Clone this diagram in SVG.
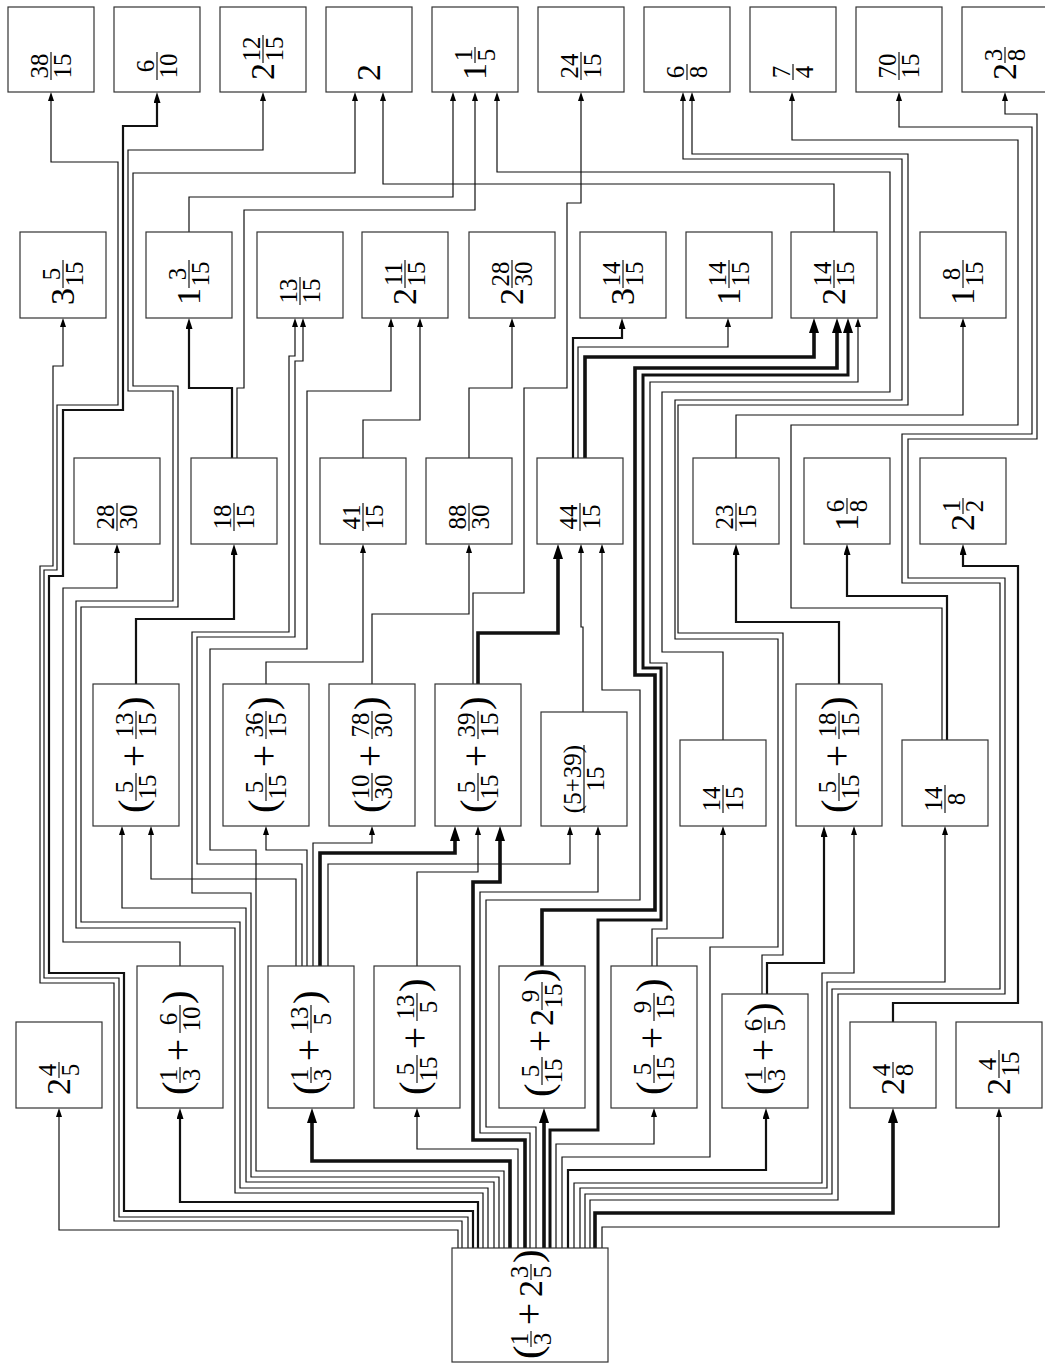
<svg xmlns="http://www.w3.org/2000/svg" width="1045" height="1367" viewBox="0 0 1045 1367" font-family="'Liberation Serif', serif">
<style>
.b{fill:#fff;stroke:#333;stroke-width:1.2}
.e{fill:none;stroke:#111;stroke-width:1.2;marker-end:url(#a)}
.m{stroke-width:2.2;marker-end:url(#am)}
.t{stroke-width:3.6;marker-end:url(#at)}
.t2{stroke-width:3;marker-end:url(#at)}
text{font-family:'Liberation Serif',serif;fill:#000}
.f{font-size:25px;text-anchor:middle}
.F{font-size:34px}
.P{font-size:41px}
.p{font-size:40px;text-anchor:middle}
.r{stroke:#000;stroke-width:1.1;fill:none}
</style>
<defs>
<marker id="a" markerUnits="userSpaceOnUse" viewBox="0 0 9 6" refX="0" refY="3" markerWidth="9" markerHeight="6" orient="auto"><path d="M0,0L9,3L0,6z" fill="#000"/></marker>
<marker id="am" markerUnits="userSpaceOnUse" viewBox="0 0 11 7" refX="0" refY="3.5" markerWidth="11" markerHeight="7" orient="auto"><path d="M0,0L11,3.5L0,7z" fill="#000"/></marker>
<marker id="at" markerUnits="userSpaceOnUse" viewBox="0 0 15 10" refX="0" refY="5" markerWidth="15" markerHeight="10" orient="auto"><path d="M0,0L15,5L0,10z" fill="#000"/></marker>
</defs>
<rect width="1045" height="1367" fill="#fff"/>
<g id="connectors">
<path class="e" d="M458 1248V1230H59V1117"/>
<path class="e" d="M462 1248V1221H114V983H40V566H53V366H63V327"/>
<path class="e" d="M468 1248V1217H119V978H44V570H57V405H118V162H51V101"/>
<path class="e m" d="M473 1248V1211H124V973H49V576H63V410H123V126H157V103"/>
<path class="e m" d="M478 1248V1202H180V1119"/>
<path class="e" d="M483 1248V1193H235V928H76V601H173V391H128V150H263V101"/>
<path class="e" d="M488 1248V1188H240V922H81V607H178V386H133V173H355V101"/>
<path class="e" d="M494 1248V1182H246V908H122V835"/>
<path class="e" d="M499 1248V1177H251V893H192V632H289V356H295V327"/>
<path class="e" d="M504 1248V1171H256V850H210V649H307V391H391V327"/>
<path class="e t" d="M510 1248V1161H312V1123"/>
<path class="e" d="M518 1248V1149H417V1117"/>
<path class="e t" d="M525 1248V1140H473V882H500V841"/>
<path class="e" d="M530 1248V1133H480V892H598V835"/>
<path class="e" d="M536 1248V1127H486V900H640V690H602V553"/>
<path class="e t" d="M544 1248V1123"/>
<path class="e t2" d="M550 1248V1130H598V920H661V668H643V375H848V333"/>
<path class="e" d="M556 1248V1144H654V1117"/>
<path class="e" d="M562 1248V1157H710V947H778V639H675V400H902V159H683V101"/>
<path class="e m" d="M568 1248V1170H766V1119"/>
<path class="e" d="M574 1248V1183H822V973H854V835"/>
<path class="e" d="M580 1248V1188H827V982H945V835"/>
<path class="e" d="M585 1248V1194H832V989H1000V583H902V434H1032V127H899V101"/>
<path class="e" d="M590 1248V1200H838V994H1005V578H908V439H1037V114H1005V101"/>
<path class="e t" d="M595 1248V1213H893V1123"/>
<path class="e" d="M602 1248V1227H999V1117"/>
<path class="e" d="M180 966V942H63V588H117V553"/>
<path class="e" d="M296 966V879H151V835"/>
<path class="e" d="M302 966V864H197V637H295V361H303V327"/>
<path class="e" d="M307 966V850H266V835"/>
<path class="e" d="M313 966V843H372V835"/>
<path class="e t" d="M320 966V853H455V841"/>
<path class="e" d="M328 966V864H570V835"/>
<path class="e m" d="M136 684V619H234V555"/>
<path class="e" d="M266 684V662H363V553"/>
<path class="e" d="M372 684V614H469V553"/>
<path class="e t" d="M478 684V633H558V559"/>
<path class="e" d="M473 684V593H524V388H567V203H581V101"/>
<path class="e" d="M583 712V627H581V553"/>
<path class="e" d="M417 966V872H478V835"/>
<path class="e t" d="M542 966V910H655V675H635V368H837V333"/>
<path class="e" d="M657 966V938H723V835"/>
<path class="e" d="M652 966V929H667V663H650V382H858V327"/>
<path class="e" d="M723 740V652H662V392H890V172H497V101"/>
<path class="e" d="M762 994V955H783V633H678V405H908V154H692V101"/>
<path class="e m" d="M767 994V963H824V837"/>
<path class="e m" d="M839 684V622H736V555"/>
<path class="e" d="M736 458V415H963V327"/>
<path class="e m" d="M947 740V596H847V555"/>
<path class="e" d="M942 740V608H791V425H1018V140H792V101"/>
<path class="e m" d="M893 1022V1003H1018V566H963V555"/>
<path class="e m" d="M573 458V338H622V329"/>
<path class="e" d="M578 458V347H728V327"/>
<path class="e t" d="M585 458V357H814V333"/>
<path class="e" d="M363 458V420H420V327"/>
<path class="e" d="M469 458V388H512V327"/>
<path class="e m" d="M232 458V388H189V329"/>
<path class="e" d="M237 458V388H244V210H475V101"/>
<path class="e" d="M189 232V197H453V101"/>
<path class="e" d="M834 232V184H383V101"/>
</g>

<g id="n38_15"><rect class="b" x="8" y="7" width="86" height="85"/><g transform="translate(51,80) rotate(-90)"><text class="f" x="14" y="-3.5">38</text><text class="f" x="14" y="20.4">15</text><path class="r" d="M0 0h28"/></g></g>
<g id="n6_10"><rect class="b" x="114" y="7" width="86" height="85"/><g transform="translate(157,80) rotate(-90)"><text class="f" x="14" y="-3.5">6</text><text class="f" x="14" y="20.4">10</text><path class="r" d="M0 0h28"/></g></g>
<g id="n2_12_15"><rect class="b" x="220" y="7" width="86" height="85"/><g transform="translate(263,80) rotate(-90)"><text class="F" x="0" y="11">2</text><text class="f" x="31" y="-3.5">12</text><text class="f" x="31" y="20.4">15</text><path class="r" d="M17 0h28"/></g></g>
<g id="n2"><rect class="b" x="326" y="7" width="86" height="85"/><g transform="translate(369,81) rotate(-90)"><text class="F" x="0" y="11">2</text></g></g>
<g id="n1_1_5"><rect class="b" x="432" y="7" width="86" height="85"/><g transform="translate(475,80) rotate(-90)"><text class="F" x="0" y="11">1</text><text class="f" x="25" y="-3.5">1</text><text class="f" x="25" y="20.4">5</text><path class="r" d="M17 0h16"/></g></g>
<g id="n24_15"><rect class="b" x="538" y="7" width="86" height="85"/><g transform="translate(581,80) rotate(-90)"><text class="f" x="14" y="-3.5">24</text><text class="f" x="14" y="20.4">15</text><path class="r" d="M0 0h28"/></g></g>
<g id="n6_8"><rect class="b" x="644" y="7" width="86" height="85"/><g transform="translate(687,80) rotate(-90)"><text class="f" x="8" y="-3.5">6</text><text class="f" x="8" y="20.4">8</text><path class="r" d="M0 0h16"/></g></g>
<g id="n7_4"><rect class="b" x="750" y="7" width="86" height="85"/><g transform="translate(793,80) rotate(-90)"><text class="f" x="8" y="-3.5">7</text><text class="f" x="8" y="20.4">4</text><path class="r" d="M0 0h16"/></g></g>
<g id="n70_15"><rect class="b" x="856" y="7" width="86" height="85"/><g transform="translate(899,80) rotate(-90)"><text class="f" x="14" y="-3.5">70</text><text class="f" x="14" y="20.4">15</text><path class="r" d="M0 0h28"/></g></g>
<g id="n2_3_8"><rect class="b" x="962" y="7" width="86" height="85"/><g transform="translate(1005,80) rotate(-90)"><text class="F" x="0" y="11">2</text><text class="f" x="25" y="-3.5">3</text><text class="f" x="25" y="20.4">8</text><path class="r" d="M17 0h16"/></g></g>

<g id="n3_5_15"><rect class="b" x="20" y="232" width="86" height="86"/><g transform="translate(63,305) rotate(-90)"><text class="F" x="0" y="11">3</text><text class="f" x="31" y="-3.5">5</text><text class="f" x="31" y="20.4">15</text><path class="r" d="M17 0h28"/></g></g>
<g id="n1_3_15"><rect class="b" x="146" y="232" width="86" height="86"/><g transform="translate(189,305) rotate(-90)"><text class="F" x="0" y="11">1</text><text class="f" x="31" y="-3.5">3</text><text class="f" x="31" y="20.4">15</text><path class="r" d="M17 0h28"/></g></g>
<g id="n13_15"><rect class="b" x="257" y="232" width="86" height="86"/><g transform="translate(300,305) rotate(-90)"><text class="f" x="14" y="-3.5">13</text><text class="f" x="14" y="20.4">15</text><path class="r" d="M0 0h28"/></g></g>
<g id="n2_11_15"><rect class="b" x="362" y="232" width="86" height="86"/><g transform="translate(405,305) rotate(-90)"><text class="F" x="0" y="11">2</text><text class="f" x="31" y="-3.5">11</text><text class="f" x="31" y="20.4">15</text><path class="r" d="M17 0h28"/></g></g>
<g id="n2_28_30"><rect class="b" x="469" y="232" width="86" height="86"/><g transform="translate(512,305) rotate(-90)"><text class="F" x="0" y="11">2</text><text class="f" x="31" y="-3.5">28</text><text class="f" x="31" y="20.4">30</text><path class="r" d="M17 0h28"/></g></g>
<g id="n3_14_15"><rect class="b" x="580" y="232" width="86" height="86"/><g transform="translate(623,305) rotate(-90)"><text class="F" x="0" y="11">3</text><text class="f" x="31" y="-3.5">14</text><text class="f" x="31" y="20.4">15</text><path class="r" d="M17 0h28"/></g></g>
<g id="n1_14_15"><rect class="b" x="686" y="232" width="86" height="86"/><g transform="translate(729,305) rotate(-90)"><text class="F" x="0" y="11">1</text><text class="f" x="31" y="-3.5">14</text><text class="f" x="31" y="20.4">15</text><path class="r" d="M17 0h28"/></g></g>
<g id="n2_14_15"><rect class="b" x="791" y="232" width="86" height="86"/><g transform="translate(834,305) rotate(-90)"><text class="F" x="0" y="11">2</text><text class="f" x="31" y="-3.5">14</text><text class="f" x="31" y="20.4">15</text><path class="r" d="M17 0h28"/></g></g>
<g id="n1_8_15"><rect class="b" x="920" y="232" width="86" height="86"/><g transform="translate(963,305) rotate(-90)"><text class="F" x="0" y="11">1</text><text class="f" x="31" y="-3.5">8</text><text class="f" x="31" y="20.4">15</text><path class="r" d="M17 0h28"/></g></g>

<g id="n28_30"><rect class="b" x="74" y="458" width="86" height="86"/><g transform="translate(117,531) rotate(-90)"><text class="f" x="14" y="-3.5">28</text><text class="f" x="14" y="20.4">30</text><path class="r" d="M0 0h28"/></g></g>
<g id="n18_15"><rect class="b" x="191" y="458" width="86" height="86"/><g transform="translate(234,531) rotate(-90)"><text class="f" x="14" y="-3.5">18</text><text class="f" x="14" y="20.4">15</text><path class="r" d="M0 0h28"/></g></g>
<g id="n41_15"><rect class="b" x="320" y="458" width="86" height="86"/><g transform="translate(363,531) rotate(-90)"><text class="f" x="14" y="-3.5">41</text><text class="f" x="14" y="20.4">15</text><path class="r" d="M0 0h28"/></g></g>
<g id="n88_30"><rect class="b" x="426" y="458" width="86" height="86"/><g transform="translate(469,531) rotate(-90)"><text class="f" x="14" y="-3.5">88</text><text class="f" x="14" y="20.4">30</text><path class="r" d="M0 0h28"/></g></g>
<g id="n44_15"><rect class="b" x="537" y="458" width="86" height="86"/><g transform="translate(580,531) rotate(-90)"><text class="f" x="14" y="-3.5">44</text><text class="f" x="14" y="20.4">15</text><path class="r" d="M0 0h28"/></g></g>
<g id="n23_15"><rect class="b" x="693" y="458" width="86" height="86"/><g transform="translate(736,531) rotate(-90)"><text class="f" x="14" y="-3.5">23</text><text class="f" x="14" y="20.4">15</text><path class="r" d="M0 0h28"/></g></g>
<g id="n1_6_8"><rect class="b" x="804" y="458" width="86" height="86"/><g transform="translate(847,531) rotate(-90)"><text class="F" x="0" y="11">1</text><text class="f" x="25" y="-3.5">6</text><text class="f" x="25" y="20.4">8</text><path class="r" d="M17 0h16"/></g></g>
<g id="n2_1_2"><rect class="b" x="920" y="458" width="86" height="86"/><g transform="translate(963,531) rotate(-90)"><text class="F" x="0" y="11">2</text><text class="f" x="25" y="-3.5">1</text><text class="f" x="25" y="20.4">2</text><path class="r" d="M17 0h16"/></g></g>

<g id="s5_13"><rect class="b" x="93" y="684" width="86" height="142"/><g transform="translate(136,813) rotate(-90)"><text class="P" x="0" y="10">(</text><text class="f" x="26" y="-3.5">5</text><text class="f" x="26" y="20.4">15</text><path class="r" d="M12 0h28"/><text class="p" x="57" y="11">+</text><text class="f" x="88" y="-3.5">13</text><text class="f" x="88" y="20.4">15</text><path class="r" d="M74 0h28"/><text class="P" x="103" y="10">)</text></g></g>
<g id="s5_36"><rect class="b" x="223" y="684" width="86" height="142"/><g transform="translate(266,813) rotate(-90)"><text class="P" x="0" y="10">(</text><text class="f" x="26" y="-3.5">5</text><text class="f" x="26" y="20.4">15</text><path class="r" d="M12 0h28"/><text class="p" x="57" y="11">+</text><text class="f" x="88" y="-3.5">36</text><text class="f" x="88" y="20.4">15</text><path class="r" d="M74 0h28"/><text class="P" x="103" y="10">)</text></g></g>
<g id="s10_78"><rect class="b" x="329" y="684" width="86" height="142"/><g transform="translate(372,813) rotate(-90)"><text class="P" x="0" y="10">(</text><text class="f" x="26" y="-3.5">10</text><text class="f" x="26" y="20.4">30</text><path class="r" d="M12 0h28"/><text class="p" x="57" y="11">+</text><text class="f" x="88" y="-3.5">78</text><text class="f" x="88" y="20.4">30</text><path class="r" d="M74 0h28"/><text class="P" x="103" y="10">)</text></g></g>
<g id="s5_39"><rect class="b" x="435" y="684" width="86" height="142"/><g transform="translate(478,813) rotate(-90)"><text class="P" x="0" y="10">(</text><text class="f" x="26" y="-3.5">5</text><text class="f" x="26" y="20.4">15</text><path class="r" d="M12 0h28"/><text class="p" x="57" y="11">+</text><text class="f" x="88" y="-3.5">39</text><text class="f" x="88" y="20.4">15</text><path class="r" d="M74 0h28"/><text class="P" x="103" y="10">)</text></g></g>
<g id="f5_39"><rect class="b" x="541" y="712" width="86" height="114"/><g transform="translate(584,813) rotate(-90)"><text class="f" x="34" y="-3.5">(5+39)</text><text class="f" x="34" y="20.4">15</text><path class="r" d="M0 0h68"/></g></g>
<g id="n14_15"><rect class="b" x="680" y="740" width="86" height="86"/><g transform="translate(723,813) rotate(-90)"><text class="f" x="14" y="-3.5">14</text><text class="f" x="14" y="20.4">15</text><path class="r" d="M0 0h28"/></g></g>
<g id="s5_18"><rect class="b" x="796" y="684" width="86" height="142"/><g transform="translate(839,813) rotate(-90)"><text class="P" x="0" y="10">(</text><text class="f" x="26" y="-3.5">5</text><text class="f" x="26" y="20.4">15</text><path class="r" d="M12 0h28"/><text class="p" x="57" y="11">+</text><text class="f" x="88" y="-3.5">18</text><text class="f" x="88" y="20.4">15</text><path class="r" d="M74 0h28"/><text class="P" x="103" y="10">)</text></g></g>
<g id="n14_8"><rect class="b" x="902" y="740" width="86" height="86"/><g transform="translate(945,813) rotate(-90)"><text class="f" x="14" y="-3.5">14</text><text class="f" x="14" y="20.4">8</text><path class="r" d="M0 0h28"/></g></g>

<g id="n2_4_5"><rect class="b" x="16" y="1022" width="86" height="86"/><g transform="translate(59,1095) rotate(-90)"><text class="F" x="0" y="11">2</text><text class="f" x="25" y="-3.5">4</text><text class="f" x="25" y="20.4">5</text><path class="r" d="M17 0h16"/></g></g>
<g id="s1_6_10"><rect class="b" x="137" y="966" width="86" height="142"/><g transform="translate(180,1095) rotate(-90)"><text class="P" x="0" y="10">(</text><text class="f" x="20" y="-3.5">1</text><text class="f" x="20" y="20.4">3</text><path class="r" d="M12 0h16"/><text class="p" x="45" y="11">+</text><text class="f" x="76" y="-3.5">6</text><text class="f" x="76" y="20.4">10</text><path class="r" d="M62 0h28"/><text class="P" x="91" y="10">)</text></g></g>
<g id="s1_13_5"><rect class="b" x="268" y="966" width="86" height="142"/><g transform="translate(311,1095) rotate(-90)"><text class="P" x="0" y="10">(</text><text class="f" x="20" y="-3.5">1</text><text class="f" x="20" y="20.4">3</text><path class="r" d="M12 0h16"/><text class="p" x="45" y="11">+</text><text class="f" x="76" y="-3.5">13</text><text class="f" x="76" y="20.4">5</text><path class="r" d="M62 0h28"/><text class="P" x="91" y="10">)</text></g></g>
<g id="s5_13_5"><rect class="b" x="374" y="966" width="86" height="142"/><g transform="translate(417,1095) rotate(-90)"><text class="P" x="0" y="10">(</text><text class="f" x="26" y="-3.5">5</text><text class="f" x="26" y="20.4">15</text><path class="r" d="M12 0h28"/><text class="p" x="57" y="11">+</text><text class="f" x="88" y="-3.5">13</text><text class="f" x="88" y="20.4">5</text><path class="r" d="M74 0h28"/><text class="P" x="103" y="10">)</text></g></g>
<g id="s5_2_9"><rect class="b" x="499" y="966" width="86" height="142"/><g transform="translate(542,1097) rotate(-90)"><text class="P" x="0" y="10">(</text><text class="f" x="26" y="-3.5">5</text><text class="f" x="26" y="20.4">15</text><path class="r" d="M12 0h28"/><text class="p" x="56" y="11">+</text><text class="F" x="71" y="11">2</text><text class="f" x="101" y="-3.5">9</text><text class="f" x="101" y="20.4">15</text><path class="r" d="M87 0h28"/><text class="P" x="115" y="10">)</text></g></g>
<g id="s5_9"><rect class="b" x="611" y="966" width="86" height="142"/><g transform="translate(654,1095) rotate(-90)"><text class="P" x="0" y="10">(</text><text class="f" x="26" y="-3.5">5</text><text class="f" x="26" y="20.4">15</text><path class="r" d="M12 0h28"/><text class="p" x="57" y="11">+</text><text class="f" x="88" y="-3.5">9</text><text class="f" x="88" y="20.4">15</text><path class="r" d="M74 0h28"/><text class="P" x="103" y="10">)</text></g></g>
<g id="s1_6_5"><rect class="b" x="722" y="994" width="86" height="114"/><g transform="translate(765,1095) rotate(-90)"><text class="P" x="0" y="10">(</text><text class="f" x="20" y="-3.5">1</text><text class="f" x="20" y="20.4">3</text><path class="r" d="M12 0h16"/><text class="p" x="45" y="11">+</text><text class="f" x="70" y="-3.5">6</text><text class="f" x="70" y="20.4">5</text><path class="r" d="M62 0h16"/><text class="P" x="79" y="10">)</text></g></g>
<g id="n2_4_8"><rect class="b" x="850" y="1022" width="86" height="86"/><g transform="translate(893,1095) rotate(-90)"><text class="F" x="0" y="11">2</text><text class="f" x="25" y="-3.5">4</text><text class="f" x="25" y="20.4">8</text><path class="r" d="M17 0h16"/></g></g>
<g id="n2_4_15"><rect class="b" x="956" y="1022" width="86" height="86"/><g transform="translate(999,1095) rotate(-90)"><text class="F" x="0" y="11">2</text><text class="f" x="31" y="-3.5">4</text><text class="f" x="31" y="20.4">15</text><path class="r" d="M17 0h28"/></g></g>

<g id="root"><rect class="b" x="452" y="1248" width="156" height="114"/><g transform="translate(531,1359) rotate(-90)"><text class="P" x="0" y="10">(</text><text class="f" x="20" y="-3.5">1</text><text class="f" x="20" y="20.4">3</text><path class="r" d="M12 0h16"/><text class="p" x="45" y="11">+</text><text class="F" x="62" y="11">2</text><text class="f" x="87" y="-3.5">3</text><text class="f" x="87" y="20.4">5</text><path class="r" d="M79 0h16"/><text class="P" x="96" y="10">)</text></g></g>
</svg>
